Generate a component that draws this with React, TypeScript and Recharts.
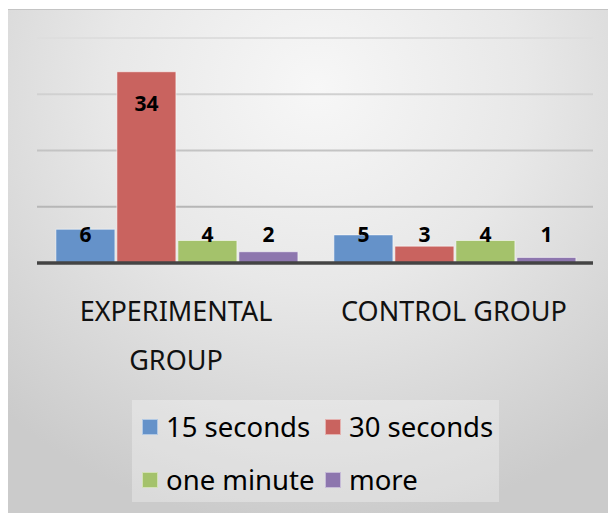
import { BarChart, Bar, XAxis, YAxis, CartesianGrid, Legend, LabelList } from "recharts";

const categories = ["EXPERIMENTAL GROUP", "CONTROL GROUP"];
// how the category labels wrap in the picture
const categoryLines = [["EXPERIMENTAL", "GROUP"], ["CONTROL GROUP"]];
const seconds15 = [6, 5];
const seconds30 = [34, 3];
const oneMinute = [4, 4];
const more = [2, 1];
const yTicks = [0, 10, 20, 30, 40];

const series = [
  { key: "s15", name: "15 seconds", color: "#6592c9", values: seconds15 },
  { key: "s30", name: "30 seconds", color: "#c9635f", values: seconds30 },
  { key: "m1", name: "one minute", color: "#a4c26b", values: oneMinute },
  { key: "more", name: "more", color: "#8d76ae", values: more },
];

const data = categories.map((c, i) => {
  const row: Record<string, string | number> = { name: c };
  series.forEach((s) => {
    row[s.key] = s.values[i];
  });
  return row;
});

const FONT = "'Noto Sans', sans-serif";

// labels sit just inside the top, but short bars push them up to a common line
const ValueLabel = (props: any) => {
  const { x, y, width, height, value } = props;
  const cy = Math.min(y + 32, y + height - 28);
  return (
    <text
      x={x + width / 2}
      y={cy}
      dy="0.35em"
      textAnchor="middle"
      fontFamily={FONT}
      fontWeight={700}
      fontSize={21}
      fill="#000"
    >
      {value}
    </text>
  );
};

const CategoryTick = (props: any) => {
  const { x, y, payload } = props;
  const lines = categoryLines[categories.indexOf(payload.value)] || [payload.value];
  return (
    <text x={x} y={y + 58} textAnchor="middle" fontFamily={FONT} fontSize={27} fill="#111">
      {lines.map((l, i) => (
        <tspan key={i} x={x} dy={i === 0 ? 0 : 48.5}>
          {l}
        </tspan>
      ))}
    </text>
  );
};

const LegendBox = (props: any) => {
  const payload: any[] = props.payload || [];
  const ordered = series
    .map((s) => payload.find((p) => p.value === s.name))
    .filter(Boolean);
  return (
    <div
      style={{
        display: "grid",
        gridTemplateColumns: "183px 184px",
        gridAutoRows: "53px",
        background: "rgba(255,255,255,0.3)",
        width: 367,
        height: 102,
        boxSizing: "border-box",
        fontFamily: FONT,
        fontSize: 27.5,
        color: "#000",
      }}
    >
      {ordered.map((p: any) => (
        <div
          key={p.value}
          style={{ display: "flex", alignItems: "center", paddingLeft: 10, whiteSpace: "nowrap" }}
        >
          <span
            style={{
              display: "inline-block",
              width: 16,
              height: 16,
              background: p.color,
              border: "1px solid rgba(255,255,255,0.5)",
              boxSizing: "border-box",
              marginRight: 8,
            }}
          />
          <span style={{ lineHeight: "30px" }}>{p.value}</span>
        </div>
      ))}
    </div>
  );
};

export default function App() {
  return (
    <div
      style={{
        position: "relative",
        marginLeft: -1,
        marginTop: 1,
        width: 620,
        height: 520,
        boxSizing: "border-box",
        border: "1px solid #c4c4c4",
        background:
          "radial-gradient(ellipse 75% 85% at 50% 15%, #f7f7f7 0%, #e8e8e8 45%, #cbcbcb 100%)",
      }}
    >
      <BarChart
        width={600}
        height={500}
        data={data}
        margin={{ top: 28, right: 15, left: 29, bottom: 0 }}
        barCategoryGap="6.8%"
        barGap={2}
      >
        <defs>
          <linearGradient id="gridGrad" gradientUnits="userSpaceOnUse" x1="0" y1="28" x2="0" y2="253">
            <stop offset="0%" stopColor="#dedede" />
            <stop offset="100%" stopColor="#a9a9a9" />
          </linearGradient>
        </defs>
        <CartesianGrid vertical={false} stroke="url(#gridGrad)" strokeWidth={2} />
        <YAxis hide domain={[0, 40]} ticks={yTicks} />
        <XAxis
          dataKey="name"
          height={247}
          axisLine={{ stroke: "#444", strokeWidth: 3.5 }}
          tickLine={false}
          tickSize={0}
          tickMargin={0}
          interval={0}
          tick={<CategoryTick />}
        />
        <Legend
          layout="horizontal"
          verticalAlign="middle"
          align="center"
          content={<LegendBox />}
          wrapperStyle={{ top: 390, left: 124, width: 367, height: 102 }}
        />
        {series.map((s) => (
          <Bar
            key={s.key}
            dataKey={s.key}
            name={s.name}
            fill={s.color}
            stroke="rgba(255,255,255,0.55)"
            strokeWidth={1}
            isAnimationActive={false}
          >
            <LabelList dataKey={s.key} content={<ValueLabel />} />
          </Bar>
        ))}
      </BarChart>
    </div>
  );
}
